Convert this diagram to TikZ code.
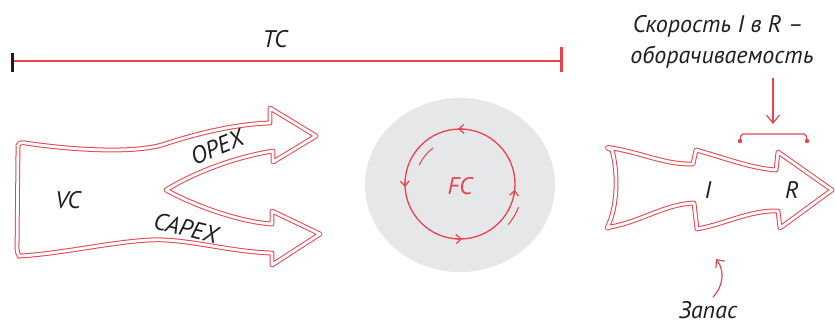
\documentclass[tikz,border=0pt]{standalone}
\usepackage{fontspec}
\setmainfont{PT Sans}
\usetikzlibrary{arrows.meta}
\definecolor{myred}{RGB}{234,67,77}
\definecolor{ink}{RGB}{30,30,30}
\definecolor{fcgrey}{RGB}{230,231,233}
\begin{document}
\begin{tikzpicture}[x=1pt,y=-1pt,
  hand/.style={font=\fontsize{24}{26}\selectfont\itshape, text=ink, inner sep=0pt},
  dbl/.style={draw=myred, line width=1pt, double=white, double distance=2.8pt, line join=round},
  redline/.style={draw=myred, line width=1.4pt, line cap=round},
  barb/.style={-{Straight Barb[length=5pt,width=9pt,line width=1.2pt]}}]
\useasboundingbox (0,0) rectangle (835,325);

% ---- TC span ----
\coordinate (tcL) at (12,61);
\coordinate (tcR) at (561,61);
\draw[redline] (tcL) -- (tcR);
\draw[ink, line width=3pt] (12,53) -- (12,72);
\draw[myred, line width=3pt] (561,47) -- (561,72);
\node[hand] (tc) at (275,39) {TC};

% ---- VC shape with OPEX / CAPEX arrows ----
\draw[dbl] (18,145) [rounded corners=4pt] -- (19,142) [sharp corners]
  .. controls (70,150) and (135,154) .. (165,144)
  .. controls (195,134) and (235,124) .. (270,123)
  -- (270,108) -- (316,136) -- (273,162) -- (273,151)
  .. controls (230,158) and (190,175) .. (166,190)
  .. controls (195,206) and (240,222) .. (272,224)
  -- (272,211) -- (320,234) -- (272,265) -- (272,253)
  .. controls (230,252) and (185,238) .. (150,240)
  .. controls (110,242) and (60,254) .. (19,256)
  [rounded corners=4pt] -- (17,253) [sharp corners] -- cycle;
\node[hand] (vc) at (68,200) {VC};
\node[hand, rotate=22] (opex) at (217,147) {OPEX};
\node[hand, rotate=-14] (capex) at (186,228) {CAPEX};

% ---- FC cycle ----
\fill[fcgrey] (460,185) ellipse [x radius=95, y radius=87];
\draw[myred, line width=1.3pt] (460,184) circle [radius=55];
\draw[myred, line width=1.1pt, barb] (460,184) ++(-85:55) arc[start angle=-85, end angle=-92, radius=55];
\draw[myred, line width=1.1pt, barb] (460,184) ++(-176:55) arc[start angle=-176, end angle=-183, radius=55];
\draw[myred, line width=1.1pt, barb] (460,184) ++(95:55) arc[start angle=95, end angle=88, radius=55];
\draw[myred, line width=1.1pt, barb] (460,184) ++(13:55) arc[start angle=13, end angle=6, radius=55];
\draw[myred, line width=1pt, line cap=round] (460,184) ++(-155:45) arc[start angle=-155, end angle=-127, radius=45];
\draw[myred, line width=1pt, line cap=round] (460,184) ++(40:63) arc[start angle=40, end angle=22, radius=63];
\node[hand, text=myred] (fc) at (460,186) {FC};

% ---- I / R arrow ----
\draw[dbl] (612,150) [rounded corners=4pt] -- (605,147) [sharp corners]
  .. controls (640,152) and (665,165) .. (693,164)
  -- (696,150)
  .. controls (725,158) and (750,168) .. (776,170)
  -- (778,152) -- (832,190) -- (780,228) -- (778,211)
  .. controls (750,210) and (725,224) .. (697,229)
  -- (694,203)
  .. controls (665,204) and (640,222) .. (610,227)
  [rounded corners=4pt] -- (606,230) [sharp corners]
  .. controls (618,205) and (618,172) .. (612,150);
\node[hand] (iI) at (708,190) {I};
\node[hand] (rR) at (792,190) {R};

% ---- speed label, arrow and bracket ----
\node[hand] (speed1) at (718,26) {Скорость I в R –};
\node[hand] (speed2) at (722,57) {оборачиваемость};
\coordinate (va) at (773,78);
\coordinate (vb) at (773,124);
\draw[myred, line width=2.8pt, -{Straight Barb[length=8pt,width=13pt,line width=1.2pt]}] (va) -- (vb);
\coordinate (brL) at (740,141);
\coordinate (brR) at (807,141);
\draw[myred, line width=1.2pt, rounded corners=2pt] (brL) -- (741,134) -- (806,134) -- (brR);
\fill[myred] (brL) circle [radius=2.2];
\fill[myred] (brR) circle [radius=2.2];

% ---- Запас ----
\node[hand] (zapas) at (708,310) {Запас};
\coordinate (zs) at (713,297);
\coordinate (ze) at (716,259);
\draw[myred, line width=1.2pt, line cap=round, -{Straight Barb[length=6pt,width=11pt,line width=1.2pt]}] (zs) .. controls (722,288) and (726,272) .. (ze);
\end{tikzpicture}
\end{document}
